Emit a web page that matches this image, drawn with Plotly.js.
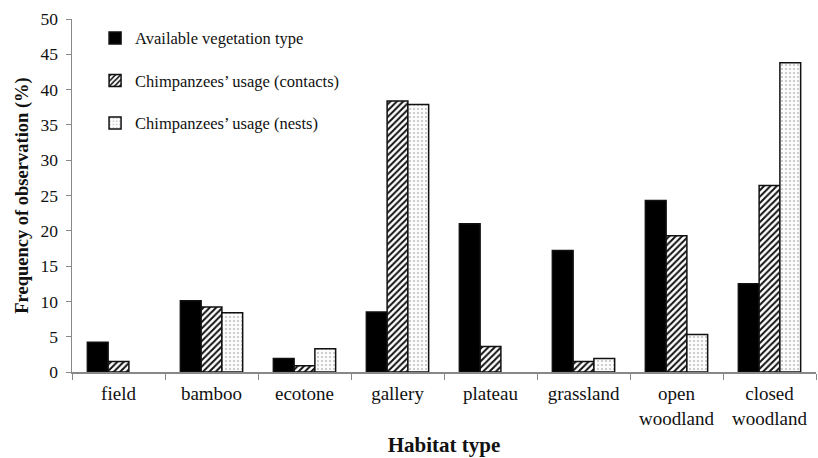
<!DOCTYPE html>
<html>
<head>
<meta charset="utf-8">
<script src="https://cdn.plot.ly/plotly-3.0.1.min.js"></script>
<style>html,body{margin:0;padding:0;background:#fff;}#chart{width:818px;height:458px;}</style>
</head>
<body>
<div id="chart"></div>
<script>
const categories = ["field", "bamboo", "ecotone", "gallery", "plateau", "grassland", "open<br>woodland", "closed<br>woodland"];
const available = [4.2, 10.1, 1.9, 8.5, 21.0, 17.2, 24.3, 12.5];
const contacts = [1.5, 9.2, 0.9, 38.4, 3.6, 1.5, 19.3, 26.4];
const nests = [null, 8.4, 3.3, 37.9, null, 1.9, 5.3, 43.8];
const seriesNames = ["Available vegetation type", "Chimpanzees’ usage (contacts)", "Chimpanzees’ usage (nests)"];

const serif = "\"Liberation Serif\", \"Times New Roman\", Times, serif";
const outline = {color: "#111", width: 1.5};

const traces = [
  {type: "bar", x: categories, y: available, name: seriesNames[0], legendgroup: "a",
   marker: {color: "#000", line: outline}},
  {type: "bar", x: categories, y: contacts, name: seriesNames[1], legendgroup: "b",
   marker: {color: "#fff", line: outline, pattern: {shape: "/", fgcolor: "#111", bgcolor: "#fff", size: 4.5, solidity: 0.45}}},
  {type: "bar", x: categories, y: nests, name: seriesNames[2], legendgroup: "c",
   marker: {color: "#fff", line: outline, pattern: {shape: ".", fgcolor: "#bdbdbd", bgcolor: "#fcfcfc", size: 4, solidity: 0.2}}}
];

const layout = {
  width: 818, height: 458,
  margin: {l: 72, r: 2, t: 19, b: 86},
  paper_bgcolor: "#fff", plot_bgcolor: "#fff",
  barmode: "group", bargap: 0.33, bargroupgap: 0,
  font: {family: serif, color: "#111"},
  showlegend: true,
  legend: {x: 0.031, y: 0.995, xanchor: "left", yanchor: "top", font: {family: serif, size: 16.5, color: "#111"},
           tracegroupgap: 18, bgcolor: "rgba(0,0,0,0)", traceorder: "grouped"},
  xaxis: {
    type: "category", tickson: "boundaries", ticks: "outside", ticklen: 6, tickcolor: "#888",
    showline: true, linecolor: "#888", linewidth: 1.5, showgrid: false, zeroline: false,
    tickfont: {family: serif, size: 19, color: "#111"}, ticklabelstandoff: 4,
    title: {text: "<b>Habitat type</b>", font: {family: serif, size: 21, color: "#111"}, standoff: 9}
  },
  yaxis: {
    range: [0, 50], dtick: 5, ticks: "outside", ticklen: 5, tickcolor: "#888",
    showline: true, linecolor: "#888", linewidth: 1.5, showgrid: false, zeroline: false,
    tickfont: {family: serif, size: 17.5, color: "#111"}, ticklabelstandoff: 4,
    title: {text: "<b>Frequency of observation (%)</b>", font: {family: serif, size: 18.5, color: "#111"}, standoff: 7}
  }
};

Plotly.newPlot("chart", traces, layout, {displayModeBar: false, staticPlot: true});
</script>
</body>
</html>
